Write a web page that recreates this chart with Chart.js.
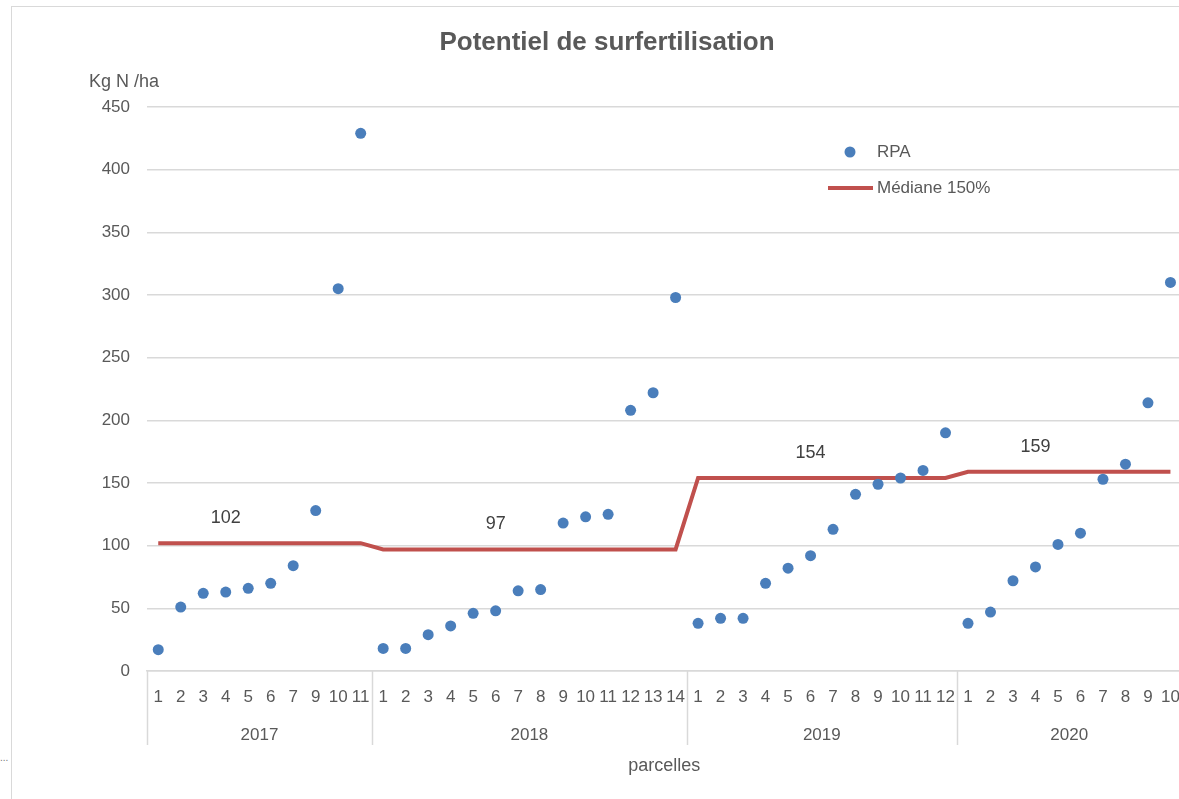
<!DOCTYPE html>
<html>
<head>
<meta charset="utf-8">
<script src="https://cdn.jsdelivr.net/npm/chart.js@4.4.0/dist/chart.umd.min.js"></script>
<style>
  body { margin: 0; overflow: hidden; background: #fff; }
  #frame { position: absolute; left: 11px; top: 6px; width: 1300px; height: 900px; border: 1px solid #d9d9d9; }
  #wrap { position: absolute; left: 0; top: 0; }
  #dots { position: absolute; left: 0; top: 752px; font: 10px "Liberation Sans", sans-serif; color: #777; }
</style>
</head>
<body>
<div id="frame"></div>
<div id="dots">...</div>
<div id="wrap"><canvas id="myChart" width="1196" height="799"></canvas></div>
<script>
const years = ['2017', '2018', '2019', '2020'];
const parcelles2017 = ['1', '2', '3', '4', '5', '6', '7', '9', '10', '11'];
const parcelles2018 = ['1', '2', '3', '4', '5', '6', '7', '8', '9', '10', '11', '12', '13', '14'];
const parcelles2019 = ['1', '2', '3', '4', '5', '6', '7', '8', '9', '10', '11', '12'];
const parcelles2020 = ['1', '2', '3', '4', '5', '6', '7', '8', '9', '10'];

const rpa2017 = [17, 51, 62, 63, 66, 70, 84, 128, 305, 429];
const rpa2018 = [18, 18, 29, 36, 46, 48, 64, 65, 118, 123, 125, 208, 222, 298];
const rpa2019 = [38, 42, 42, 70, 82, 92, 113, 141, 149, 154, 160, 190];
const rpa2020 = [38, 47, 72, 83, 101, 110, 153, 165, 214, 310];

const mediane = [102, 97, 154, 159]; // médiane x 150% par année
const yTicks = [0, 50, 100, 150, 200, 250, 300, 350, 400, 450];

const groups = [parcelles2017, parcelles2018, parcelles2019, parcelles2020];
const labels = [].concat(...groups);
const rpa = [].concat(rpa2017, rpa2018, rpa2019, rpa2020);
const medianLine = [];
groups.forEach((g, i) => g.forEach(() => medianLine.push(mediane[i])));

const FONT = '"Liberation Sans", Arial, sans-serif';
const GREY = '#595959';

const extras = {
    id: 'extras',
    afterDraw(chart) {
        const c = chart.ctx;
        const x = chart.scales.x;
        const y = chart.scales.y;
        const w = x.width / labels.length;
        c.save();

        // title
        c.fillStyle = GREY;
        c.font = 'bold 26px ' + FONT;
        c.textAlign = 'center';
        c.textBaseline = 'middle';
        c.fillText('Potentiel de surfertilisation', 607, 43);

        // y unit
        c.font = '18px ' + FONT;
        c.fillText('Kg N /ha', 124, 82);

        // year groups under the axis
        c.strokeStyle = '#d9d9d9';
        c.lineWidth = 1.5;
        let start = 0;
        groups.forEach((g, i) => {
            const x0 = x.left + start * w;
            const x1 = x.left + (start + g.length) * w;
            c.beginPath();
            c.moveTo(Math.round(x0) + 0.5, y.bottom);
            c.lineTo(Math.round(x0) + 0.5, 745);
            c.stroke();
            c.fillStyle = GREY;
            c.font = '17px ' + FONT;
            c.fillText(years[i], (x0 + x1) / 2, 735);
            start += g.length;
        });
        c.beginPath();
        c.moveTo(Math.round(x.right) - 0.5, y.bottom);
        c.lineTo(Math.round(x.right) - 0.5, 745);
        c.stroke();

        // median value labels
        const at = [3, 5, 5, 3];
        start = 0;
        c.font = '18px ' + FONT;
        c.fillStyle = '#404040';
        groups.forEach((g, i) => {
            const idx = start + at[i];
            c.fillText(String(mediane[i]), x.getPixelForValue(idx), y.getPixelForValue(mediane[i]) - 25);
            start += g.length;
        });

        // legend inside the plot
        c.fillStyle = '#4A7EBB';
        c.beginPath();
        c.arc(850, 152, 5.5, 0, Math.PI * 2);
        c.fill();
        c.strokeStyle = '#C0504D';
        c.lineWidth = 4;
        c.beginPath();
        c.moveTo(828, 188);
        c.lineTo(873, 188);
        c.stroke();
        c.fillStyle = GREY;
        c.font = '17px ' + FONT;
        c.textAlign = 'left';
        c.fillText('RPA', 877, 152);
        c.fillText('Médiane 150%', 877, 188);
        c.restore();
    }
};

const data = {
    labels: labels,
    datasets: [{
        type: 'line',
        label: 'RPA',
        data: rpa,
        showLine: false,
        pointRadius: 5.5,
        pointBorderWidth: 0,
        pointBackgroundColor: '#4A7EBB',
        order: 1
    }, {
        type: 'line',
        label: 'Médiane 150%',
        data: medianLine,
        borderColor: '#C0504D',
        borderWidth: 4,
        pointRadius: 0,
        tension: 0,
        order: 2
    }]
};

const config = {
    type: 'line',
    data: data,
    options: {
        responsive: false,
        animation: false,
        events: [],
        layout: { padding: { left: 0, right: 9, top: 107, bottom: 22 } },
        plugins: {
            legend: { display: false },
            tooltip: { enabled: false }
        },
        scales: {
            x: {
                offset: true,
                grid: { display: false, drawTicks: false },
                border: { display: true, color: '#d9d9d9', width: 1.5 },
                ticks: {
                    autoSkip: false,
                    maxRotation: 0,
                    padding: 16,
                    color: GREY,
                    font: { family: FONT, size: 17 }
                },
                title: {
                    display: true,
                    text: 'parcelles',
                    color: GREY,
                    padding: 0,
                    font: { family: FONT, size: 18 }
                },
                afterFit: s => { s.height = 106; }
            },
            y: {
                min: 0,
                max: 450,
                afterBuildTicks: s => { s.ticks = yTicks.map(v => ({ value: v })); },
                grid: { color: '#d9d9d9', lineWidth: 1.5, drawTicks: false },
                border: { display: false },
                ticks: {
                    padding: 17,
                    color: GREY,
                    font: { family: FONT, size: 17 }
                },
                afterFit: s => { s.width = 147; }
            }
        }
    },
    plugins: [extras]
};

new Chart(document.getElementById('myChart').getContext('2d'), config);
</script>
</body>
</html>
